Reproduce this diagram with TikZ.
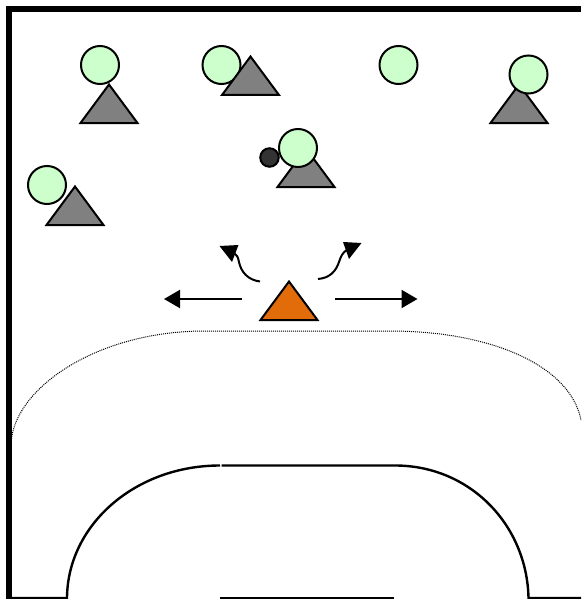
\documentclass[tikz,border=0pt]{standalone}
\usetikzlibrary{arrows.meta}
\definecolor{playergreen}{HTML}{CCFFCC}
\definecolor{playergray}{HTML}{808080}
\definecolor{playerorange}{HTML}{E36C0A}
\definecolor{ballgray}{HTML}{333333}
\tikzset{
  player/.style={circle,draw=black,fill=playergreen,line width=2pt,minimum size=38pt,inner sep=0pt,outer sep=0pt},
  ballnode/.style={circle,draw=black,fill=ballgray,line width=2pt,minimum size=18.5pt,inner sep=0pt,outer sep=0pt},
  tribody/.style={draw=black,line width=2pt,line join=miter},
  wall/.style={line width=6pt,line cap=butt,line join=miter},
  court/.style={line width=2.4pt},
  freeline/.style={line width=1pt,dash pattern=on 1pt off 1pt,black},
  mover/.style={line width=2pt,-{Triangle[length=16pt,width=18pt]}},
  curver/.style={line width=2pt}
}
\newcommand{\tri}[3]{\draw[tribody,fill=#3] (#1-28.5,#2+39) -- (#1,#2+0.5) -- (#1+28.5,#2+39) -- cycle;}
\begin{document}
\begin{tikzpicture}[x=1pt,y=-1pt]
\useasboundingbox (0,0) rectangle (581,599);
\fill[white] (0,0) rectangle (581,599);
% walls
\draw[wall] (9,599) -- (9,9) -- (581,9);
% free-throw line
\draw[freeline] (11,445) .. controls (12,390) and (95,331) .. (205,331) -- (390,331) .. controls (490,331) and (570,365) .. (581,420);
% goal area
\draw[court] (9,598) -- (67,598) .. controls (67.5,525) and (135,465.5) .. (220,465.5);
\draw[court] (221.5,465.5) -- (395,465.5) .. controls (470,465.5) and (527,525) .. (528.5,598) -- (581,598);
\draw[court] (220,598) -- (394,598);
% players
\node[player] (p1) at (100,65) {};
\tri{109}{84}{playergray}
\node[player] (p2) at (221.5,65) {};
\tri{250.5}{56}{playergray}
\node[player] (p3) at (398.5,65) {};
\tri{519}{84}{playergray}
\node[player] (p4) at (528.5,74.5) {};
\tri{306}{148}{playergray}
\node[ballnode] (ball) at (269.5,157.5) {};
\node[player] (p5) at (298,148) {};
\node[player] (p6) at (47,185) {};
\tri{75}{186}{playergray}
\tri{289}{281}{playerorange}
% movement arrows
\coordinate (ls) at (241.5,299); \coordinate (lt) at (164,299);
\coordinate (rs) at (335,299); \coordinate (rt) at (417.5,299);
\draw[mover] (ls) -- (lt);
\draw[mover] (rs) -- (rt);
\coordinate (cls) at (260,281.5); \coordinate (clm) at (239,262); \coordinate (clt) at (219.5,246);
\coordinate (crs) at (318,279); \coordinate (crm) at (339,262); \coordinate (crt) at (361.5,243);
\draw[curver] (cls) .. controls (248,280) and (241,272) .. (clm) .. controls (238,257) and (237,255) .. (234,253);
\draw[curver] (crs) .. controls (330,278) and (336,271) .. (crm) .. controls (341,256) and (343,252) .. (347,250);
\fill (clt) -- (238.5,245) -- (232,262) -- cycle;
\fill (crt) -- (343,242) -- (349,259) -- cycle;
\end{tikzpicture}
\end{document}
